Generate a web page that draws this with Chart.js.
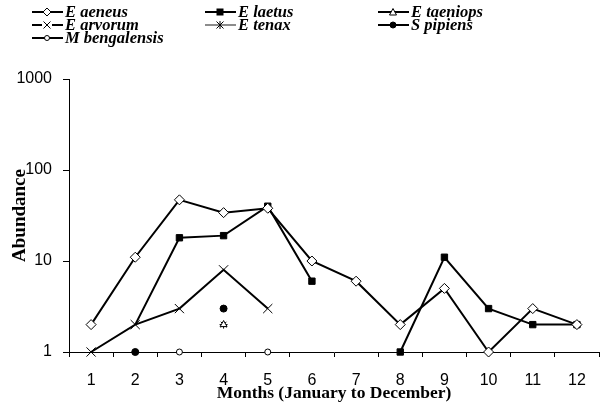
<!DOCTYPE html>
<html>
<head>
<meta charset="utf-8">
<title>Abundance by month</title>
<style>
body { margin: 0; background: #fff; }
#wrap { position: relative; width: 600px; height: 402px; overflow: hidden; }
#chart { position: absolute; left: 0; top: 0; }
#legend { position: absolute; left: 0; top: 0; font: italic bold 16.5px "Liberation Serif", "Times New Roman", serif; color: #000; }
.item { position: absolute; height: 14px; line-height: 14px; white-space: nowrap; }
.item svg { position: absolute; left: 0; top: 1px; }
.item span { position: absolute; left: 33px; top: 0; }
</style>
</head>
<body>
<div id="wrap">
<canvas id="chart" width="620" height="402"></canvas>
<div id="legend"></div>
</div>
<script src="https://cdn.jsdelivr.net/npm/chart.js@4/dist/chart.umd.min.js"></script>
<script>
// data
const months = ['1','2','3','4','5','6','7','8','9','10','11','12'];
const yTicks = [1, 10, 100, 1000];

const eAeneus      = [2, 11, 47, 34, 38, 10, 6, 2, 5, 1, 3, 2];
const eLaetus      = [null, 2, 18, 19, 40, 6, null, 1, 11, 3, 2, 2];
const eTaeniops    = [null, null, null, 2, null, null, null, null, null, null, null, null];
const eArvorum     = [1, 2, 3, 8, 3, null, null, null, null, null, null, null];
const eTenax       = [null, null, null, 2, null, null, null, null, null, null, null, null];
const sPipiens     = [null, 1, null, 3, null, null, null, null, null, null, null, 2];
const mBengalensis = [null, null, 1, null, 1, null, null, null, null, null, null, null];

const seriesNames = ['E aeneus', 'E laetus', 'E taeniops', 'E arvorum', 'E tenax', 'S pipiens', 'M bengalensis'];

function ds(label, data, style, radius, fill, extra) {
    return Object.assign({
        label: label,
        data: data,
        borderColor: '#000',
        borderWidth: 2,
        pointStyle: style,
        pointRadius: radius,
        pointBackgroundColor: fill,
        pointBorderColor: '#000',
        pointBorderWidth: 1,
        spanGaps: false,
        clip: 10,
        tension: 0
    }, extra || {});
}

const datasets = [
    ds(seriesNames[0], eAeneus, 'rectRot', 5, '#fff'),
    // the square at month 2 is not drawn in the original
    ds(seriesNames[1], eLaetus, 'rect', 4.5, '#000', { pointRadius: [4.5, 0, 4.5, 4.5, 4.5, 4.5, 4.5, 4.5, 4.5, 4.5, 4.5, 4.5] }),
    ds(seriesNames[2], eTaeniops, 'triangle', 4, '#fff'),
    ds(seriesNames[3], eArvorum, 'crossRot', 6.5, '#fff'),
    ds(seriesNames[4], eTenax, 'star', 4, '#000'),
    ds(seriesNames[5], sPipiens, 'circle', 3.5, '#000'),
    ds(seriesNames[6], mBengalensis, 'circle', 3, '#fff')
];

const tickFont = { family: 'Liberation Sans, Arial, sans-serif', size: 16 };
const xTitleFont = { family: 'Liberation Serif, Times New Roman, serif', size: 17.5, weight: 'bold', lineHeight: 1 };
const yTitleFont = { family: 'Liberation Serif, Times New Roman, serif', size: 19, weight: 'bold', lineHeight: 1 };

const chart = new Chart(document.getElementById('chart'), {
    type: 'line',
    data: { labels: months, datasets: datasets },
    options: {
        responsive: false,
        animation: false,
        events: [],
        layout: { padding: { top: 79, right: 21, left: 0, bottom: 0 } },
        plugins: { legend: { display: false }, tooltip: { enabled: false } },
        scales: {
            x: {
                offset: true,
                grid: { offset: true, drawOnChartArea: false, color: '#000', tickLength: 5, tickWidth: 1 },
                border: { color: '#000', width: 1 },
                ticks: { color: '#000', font: tickFont, padding: 14, maxRotation: 0, autoSkip: false },
                title: { display: true, text: 'Months (January to December)', color: '#000', font: xTitleFont, padding: { top: 0, bottom: 0 } },
                afterFit: s => { s.height = 50; s.paddingLeft = 0; s.paddingRight = 0; }
            },
            y: {
                type: 'logarithmic',
                min: 1,
                max: 1000,
                afterBuildTicks: s => { s.ticks = yTicks.map(v => ({ value: v })); },
                grid: { drawOnChartArea: false, color: '#000', tickLength: 6, tickWidth: 1 },
                border: { color: '#000', width: 1 },
                ticks: { color: '#000', font: tickFont, padding: 11, callback: v => String(v) },
                title: { display: true, text: 'Abundance', color: '#000', font: yTitleFont, padding: { top: 11, bottom: 0 } },
                afterFit: s => { s.width = 69; }
            }
        }
    }
});

// the plot in the original runs up to x = 599; the canvas is a bit wider and cropped
chart.options.layout.padding.right += chart.chartArea.right - 599;
chart.update();

// legend: three columns, like the original
function markerSvg(i) {
    const d = datasets[i];
    const cx = 15, cy = 6;
    let m = '';
    const st = 'stroke="#000" stroke-width="1"';
    if (d.pointStyle === 'rectRot') m = `<path d="M${cx-4} ${cy}L${cx} ${cy-4}L${cx+4} ${cy}L${cx} ${cy+4}Z" fill="#fff" ${st}/>`;
    else if (d.pointStyle === 'rect') m = `<rect x="${cx-3.5}" y="${cy-3.5}" width="7" height="7" fill="#000"/>`;
    else if (d.pointStyle === 'triangle') m = `<path d="M${cx-3.5} ${cy+3}L${cx} ${cy-3.5}L${cx+3.5} ${cy+3}Z" fill="#fff" ${st}/>`;
    else if (d.pointStyle === 'crossRot') m = `<rect x="${cx-5}" y="${cy-1}" width="10" height="2" fill="#fff"/><path d="M${cx-3.5} ${cy-3.5}L${cx+3.5} ${cy+3.5}M${cx-3.5} ${cy+3.5}L${cx+3.5} ${cy-3.5}" ${st}/>`;
    else if (d.pointStyle === 'star') m = `<path d="M${cx-3.5} ${cy-3.5}L${cx+3.5} ${cy+3.5}M${cx-3.5} ${cy+3.5}L${cx+3.5} ${cy-3.5}M${cx} ${cy-4}L${cx} ${cy+4}" ${st}/>`;
    else if (d.pointStyle === 'circle') m = `<circle cx="${cx}" cy="${cy}" r="${d.pointRadius-0.5}" fill="${d.pointBackgroundColor}" ${st}/>`;
    const lineCol = d.pointStyle === 'star' ? '#666' : '#000';
    const lw = d.pointStyle === 'star' ? 1.5 : 2;
    return `<svg width="31" height="12"><line x1="0" y1="${cy}" x2="31" y2="${cy}" stroke="${lineCol}" stroke-width="${lw}"/>${m}</svg>`;
}

const legendCols = [32, 205, 378];
const legendRows = [5, 18, 31];
const legendEl = document.getElementById('legend');
seriesNames.forEach((name, k) => {
    const el = document.createElement('div');
    el.className = 'item';
    el.style.left = legendCols[k % 3] + 'px';
    el.style.top = legendRows[Math.floor(k / 3)] + 'px';
    el.innerHTML = markerSvg(k) + '<span>' + name + '</span>';
    legendEl.appendChild(el);
});
</script>
</body>
</html>
